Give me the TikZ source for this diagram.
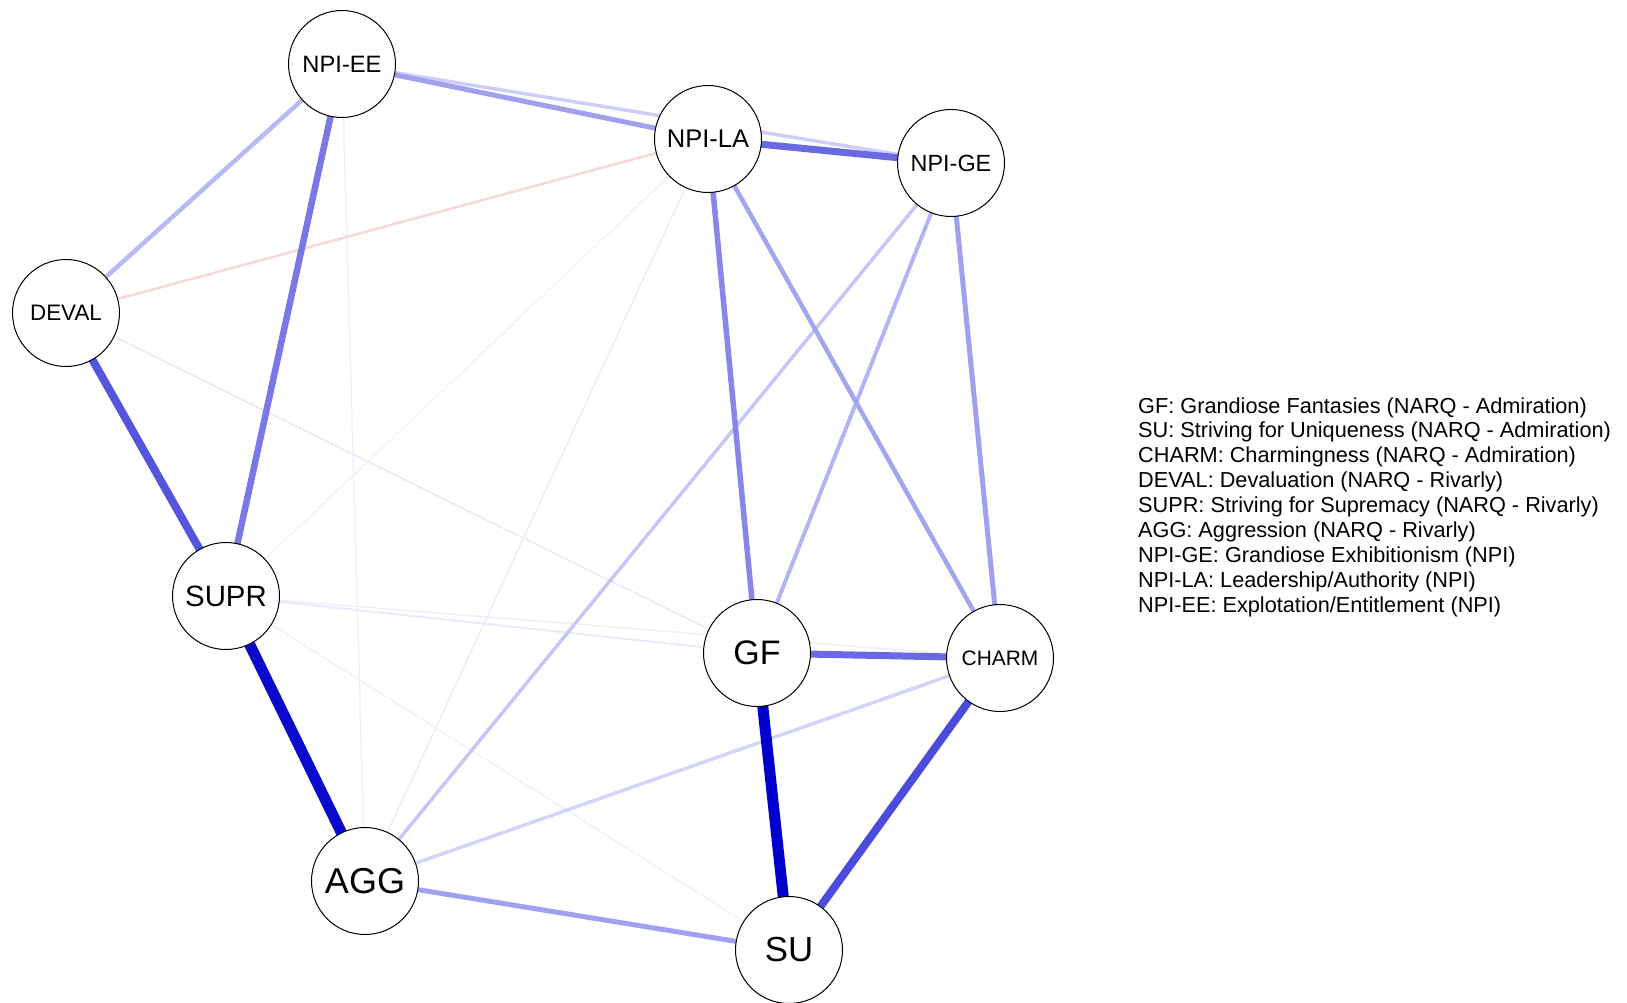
\documentclass[tikz,border=0pt]{standalone}
\usepackage{fontspec}
\setmainfont{Liberation Sans}
\usetikzlibrary{backgrounds}
\newcommand{\fsz}[1]{\fontsize{#1}{#1}\selectfont}
\definecolor{cGFSU}{RGB}{0,0,205}
\definecolor{cSUPRAGG}{RGB}{10,10,205}
\definecolor{cDEVSUPR}{RGB}{85,85,220}
\definecolor{cCHSU}{RGB}{75,75,220}
\definecolor{cLAGE}{RGB}{105,105,225}
\definecolor{cGFCH}{RGB}{105,105,230}
\definecolor{cEESUPR}{RGB}{120,120,232}
\definecolor{cLAGF}{RGB}{135,135,235}
\definecolor{cEELA}{RGB}{160,160,238}
\definecolor{cGECH}{RGB}{160,160,240}
\definecolor{cAGGSU}{RGB}{160,160,240}
\definecolor{cLACH}{RGB}{165,165,238}
\definecolor{cEEDEV}{RGB}{185,185,246}
\definecolor{cGEGF}{RGB}{180,180,245}
\definecolor{cGEAGG}{RGB}{198,198,247}
\definecolor{cCHAGG}{RGB}{212,212,249}
\definecolor{cEEGE}{RGB}{205,205,247}
\definecolor{cLADEV}{RGB}{246,216,216}
\definecolor{cLAAGG}{RGB}{250,230,230}
\definecolor{cDEVGF}{RGB}{232,232,252}
\definecolor{cSUPRGF}{RGB}{234,234,251}
\definecolor{cSUPRCH}{RGB}{238,238,251}
\definecolor{cSUPRSU}{RGB}{240,240,252}
\definecolor{cEEAGG}{RGB}{240,240,252}
\definecolor{cLASUPR}{RGB}{243,240,246}
\begin{document}
\begin{tikzpicture}[x=1pt,y=-1pt,
  vnode/.style={circle,draw=black,line width=1pt,fill=white,minimum size=107pt,inner sep=0pt},
  edge/.style={line cap=butt},
  legend/.style={anchor=base west,inner sep=0pt,font=\fsz{21.7}}]
\useasboundingbox (0,0) rectangle (1627,1003);
\node[vnode,font=\fsz{23.7}] (EE) at (342,64) {NPI-EE};
\node[vnode,font=\fsz{25.5}] (LA) at (708,139) {NPI-LA};
\node[vnode,font=\fsz{23.4}] (GE) at (951,163) {NPI-GE};
\node[vnode,font=\fsz{22.4}] (DEV) at (66,313) {DEVAL};
\node[vnode,font=\fsz{29.4}] (SUPR) at (226,596) {SUPR};
\node[vnode,font=\fsz{34}] (GF) at (757,653) {GF};
\node[vnode,font=\fsz{20.9}] (CH) at (1000,658) {CHARM};
\node[vnode,font=\fsz{36}] (AGG) at (365,881) {AGG};
\node[vnode,font=\fsz{34.8}] (SU) at (789,950) {SU};
\begin{scope}[on background layer,edge]
\draw[cLASUPR,line width=1.3pt] (LA.center) -- (SUPR.center);
\draw[cEEAGG,line width=1.5pt] (EE.center) -- (AGG.center);
\draw[cSUPRSU,line width=1.5pt] (SUPR.center) -- (SU.center);
\draw[cSUPRCH,line width=1.5pt] (SUPR.center) -- (CH.center);
\draw[cSUPRGF,line width=2pt] (SUPR.center) -- (GF.center);
\draw[cDEVGF,line width=1.5pt] (DEV.center) -- (GF.center);
\draw[cLAAGG,line width=1.3pt] (LA.center) -- (AGG.center);
\draw[cLADEV,line width=2.5pt] (LA.center) -- (DEV.center);
\draw[cEEGE,line width=3.5pt] (EE.center) -- (GE.center);
\draw[cCHAGG,line width=3.5pt] (CH.center) -- (AGG.center);
\draw[cGEAGG,line width=3.5pt] (GE.center) -- (AGG.center);
\draw[cGEGF,line width=4pt] (GE.center) -- (GF.center);
\draw[cEEDEV,line width=4.5pt] (EE.center) -- (DEV.center);
\draw[cLACH,line width=4.5pt] (LA.center) -- (CH.center);
\draw[cAGGSU,line width=5pt] (AGG.center) -- (SU.center);
\draw[cGECH,line width=5pt] (GE.center) -- (CH.center);
\draw[cEELA,line width=5pt] (EE.center) -- (LA.center);
\draw[cLAGF,line width=5.5pt] (LA.center) -- (GF.center);
\draw[cEESUPR,line width=6.5pt] (EE.center) -- (SUPR.center);
\draw[cGFCH,line width=7pt] (GF.center) -- (CH.center);
\draw[cLAGE,line width=7pt] (LA.center) -- (GE.center);
\draw[cCHSU,line width=8pt] (CH.center) -- (SU.center);
\draw[cDEVSUPR,line width=8pt] (DEV.center) -- (SUPR.center);
\draw[cSUPRAGG,line width=11pt] (SUPR.center) -- (AGG.center);
\draw[cGFSU,line width=11pt] (GF.center) -- (SU.center);
\end{scope}
\node[legend] (l1) at (1138,413.0) {GF: Grandiose Fantasies (NARQ - Admiration)};
\node[legend] (l2) at (1138,437.9) {SU: Striving for Uniqueness (NARQ - Admiration)};
\node[legend] (l3) at (1138,462.8) {CHARM: Charmingness (NARQ - Admiration)};
\node[legend] (l4) at (1138,487.7) {DEVAL: Devaluation (NARQ - Rivarly)};
\node[legend] (l5) at (1138,512.6) {SUPR: Striving for Supremacy (NARQ - Rivarly)};
\node[legend] (l6) at (1138,537.5) {AGG: Aggression (NARQ - Rivarly)};
\node[legend] (l7) at (1138,562.4) {NPI-GE: Grandiose Exhibitionism (NPI)};
\node[legend] (l8) at (1138,587.3) {NPI-LA: Leadership/Authority (NPI)};
\node[legend] (l9) at (1138,612.2) {NPI-EE: Explotation/Entitlement (NPI)};
\end{tikzpicture}
\end{document}
